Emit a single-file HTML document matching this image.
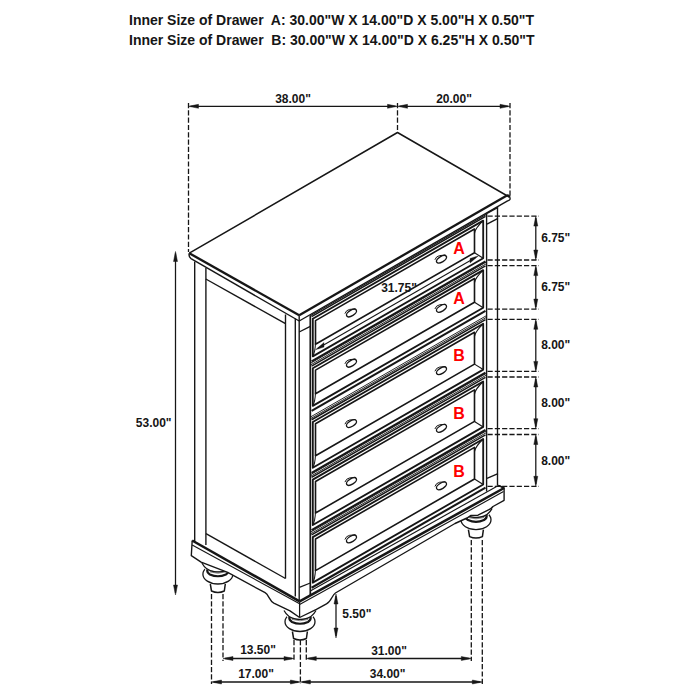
<!DOCTYPE html>
<html><head><meta charset="utf-8"><style>
html,body{margin:0;padding:0;background:#fff;}
body{width:700px;height:700px;overflow:hidden;position:relative;}
.hd{position:absolute;left:129px;font:bold 14px "Liberation Sans",sans-serif;color:#161616;white-space:pre;line-height:16px;}
svg{position:absolute;left:0;top:0;}
svg text{font-family:"Liberation Sans",sans-serif;font-weight:bold;}
</style></head><body>
<div class="hd" style="top:11.8px">Inner Size of Drawer  A: 30.00"W X 14.00"D X 5.00"H X 0.50"T</div>
<div class="hd" style="top:32px">Inner Size of Drawer  B: 30.00"W X 14.00"D X 6.25"H X 0.50"T</div>
<svg width="700" height="700" viewBox="0 0 700 700">
<line x1="188.50" y1="103.00" x2="188.50" y2="252.00" stroke="#161616" stroke-width="1.3" stroke-dasharray="5.2,2.1"/>
<line x1="397.50" y1="103.00" x2="397.50" y2="131.50" stroke="#161616" stroke-width="1.3" stroke-dasharray="5.2,2.1"/>
<line x1="510.00" y1="103.00" x2="510.00" y2="196.50" stroke="#161616" stroke-width="1.3" stroke-dasharray="5.2,2.1"/>
<line x1="190.50" y1="106.30" x2="395.50" y2="106.30" stroke="#161616" stroke-width="1.265"/>
<polygon points="188.50,106.30 198.50,104.30 198.50,108.30" fill="#161616" stroke="#161616" stroke-width="0.45999999999999996" stroke-linejoin="round"/>
<polygon points="397.50,106.30 387.50,104.30 387.50,108.30" fill="#161616" stroke="#161616" stroke-width="0.45999999999999996" stroke-linejoin="round"/>
<line x1="399.50" y1="106.30" x2="508.00" y2="106.30" stroke="#161616" stroke-width="1.265"/>
<polygon points="397.50,106.30 407.50,104.30 407.50,108.30" fill="#161616" stroke="#161616" stroke-width="0.45999999999999996" stroke-linejoin="round"/>
<polygon points="510.00,106.30 500.00,104.30 500.00,108.30" fill="#161616" stroke="#161616" stroke-width="0.45999999999999996" stroke-linejoin="round"/>
<text x="293.0" y="103.0" font-size="12" text-anchor="middle" fill="#161616">38.00"</text>
<text x="454.0" y="103.0" font-size="12" text-anchor="middle" fill="#161616">20.00"</text>
<polyline points="189.30,253.20 397.50,132.50 509.70,197.30" fill="none" stroke="#161616" stroke-width="1.4949999999999999" stroke-linejoin="round"/>
<line x1="189.30" y1="253.20" x2="299.20" y2="315.20" stroke="#161616" stroke-width="2.3"/>
<line x1="299.20" y1="315.20" x2="506.90" y2="195.40" stroke="#161616" stroke-width="2.3"/>
<path d="M506.9,195.4 Q509.2,194.6 509.7,197.3" fill="none" stroke="#161616" stroke-width="1.8399999999999999" stroke-linejoin="round"/>
<path d="M189.3,253.2 Q188.3,256.5 191,258.6" fill="none" stroke="#161616" stroke-width="1.38" stroke-linejoin="round"/>
<line x1="191.00" y1="258.60" x2="299.20" y2="321.00" stroke="#161616" stroke-width="1.38"/>
<line x1="299.20" y1="321.00" x2="508.00" y2="200.60" stroke="#161616" stroke-width="1.38"/>
<path d="M509.7,197.3 Q511,200 508,200.6" fill="none" stroke="#161616" stroke-width="1.38" stroke-linejoin="round"/>
<line x1="299.20" y1="315.20" x2="299.20" y2="321.00" stroke="#161616" stroke-width="1.38"/>
<line x1="194.70" y1="261.50" x2="194.70" y2="541.50" stroke="#161616" stroke-width="1.38"/>
<line x1="205.90" y1="268.00" x2="205.90" y2="545.00" stroke="#161616" stroke-width="1.38"/>
<line x1="205.80" y1="279.00" x2="285.50" y2="323.70" stroke="#161616" stroke-width="1.38"/>
<line x1="285.50" y1="314.50" x2="285.50" y2="578.50" stroke="#161616" stroke-width="1.38"/>
<line x1="295.30" y1="318.40" x2="295.30" y2="596.50" stroke="#161616" stroke-width="1.38"/>
<line x1="299.20" y1="321.00" x2="299.20" y2="601.40" stroke="#161616" stroke-width="1.38"/>
<line x1="206.00" y1="533.70" x2="285.50" y2="578.50" stroke="#161616" stroke-width="1.38"/>
<line x1="310.30" y1="315.60" x2="310.30" y2="595.50" stroke="#161616" stroke-width="1.7249999999999999"/>
<line x1="299.20" y1="332.00" x2="310.30" y2="326.40" stroke="#161616" stroke-width="1.38"/>
<line x1="486.60" y1="213.30" x2="486.60" y2="491.60" stroke="#161616" stroke-width="1.38"/>
<line x1="497.50" y1="207.30" x2="497.50" y2="485.40" stroke="#161616" stroke-width="1.38"/>
<line x1="487.00" y1="213.30" x2="498.00" y2="207.30" stroke="#161616" stroke-width="1.38"/>
<line x1="487.00" y1="224.10" x2="498.00" y2="218.40" stroke="#161616" stroke-width="1.38"/>
<line x1="487.00" y1="478.30" x2="498.00" y2="473.60" stroke="#161616" stroke-width="1.38"/>
<line x1="310.30" y1="315.80" x2="487.00" y2="214.02" stroke="#161616" stroke-width="1.15"/>
<line x1="311.60" y1="316.55" x2="485.50" y2="216.39" stroke="#161616" stroke-width="1.4949999999999999"/>
<line x1="311.60" y1="361.45" x2="485.50" y2="261.29" stroke="#161616" stroke-width="2.07"/>
<polygon points="312.80,318.76 483.20,220.61 483.20,258.21 312.80,356.36" fill="none" stroke="#161616" stroke-width="1.8399999999999999" stroke-linejoin="round"/>
<polygon points="315.50,320.61 474.50,229.02 474.50,252.72 315.50,344.31" fill="none" stroke="#161616" stroke-width="1.6099999999999999" stroke-linejoin="round"/>
<path d="M483.20,220.61 Q475.50,227.95 474.50,233.02" fill="none" stroke="#161616" stroke-width="1.15" stroke-linejoin="round"/>
<line x1="483.20" y1="258.21" x2="474.50" y2="252.72" stroke="#161616" stroke-width="1.15"/>
<path d="M315.50,342.81 Q315.10,352.61 312.80,356.06" fill="none" stroke="#161616" stroke-width="1.035" stroke-linejoin="round"/>
<line x1="310.20" y1="365.16" x2="487.00" y2="263.32" stroke="#161616" stroke-width="0.9199999999999999"/>
<line x1="310.20" y1="363.46" x2="487.00" y2="261.62" stroke="#161616" stroke-width="0.9199999999999999"/>
<g transform="translate(350.90,312.92)"><ellipse cx="0.6" cy="0.1" rx="5.6" ry="2.8" transform="rotate(-31 0.6 0.1)" fill="none" stroke="#161616" stroke-width="1.4"/><path d="M-6.0,0.7 Q-4.8,-2.9 -1.3,-3.5 L4.3,-4.0" fill="none" stroke="#161616" stroke-width="1.0"/></g>
<g transform="translate(440.90,259.08)"><ellipse cx="0.6" cy="0.1" rx="5.6" ry="2.8" transform="rotate(-31 0.6 0.1)" fill="none" stroke="#161616" stroke-width="1.4"/><path d="M-6.0,0.7 Q-4.8,-2.9 -1.3,-3.5 L4.3,-4.0" fill="none" stroke="#161616" stroke-width="1.0"/></g>
<text x="459.0" y="253.8" font-size="16" text-anchor="middle" fill="#ff0000">A</text>
<line x1="311.60" y1="366.05" x2="485.50" y2="265.89" stroke="#161616" stroke-width="1.4949999999999999"/>
<line x1="311.60" y1="410.95" x2="485.50" y2="310.79" stroke="#161616" stroke-width="2.07"/>
<polygon points="312.80,368.26 483.20,270.11 483.20,307.71 312.80,405.86" fill="none" stroke="#161616" stroke-width="1.8399999999999999" stroke-linejoin="round"/>
<polygon points="315.50,370.11 474.50,278.52 474.50,302.22 315.50,393.81" fill="none" stroke="#161616" stroke-width="1.6099999999999999" stroke-linejoin="round"/>
<path d="M483.20,270.11 Q475.50,277.45 474.50,282.52" fill="none" stroke="#161616" stroke-width="1.15" stroke-linejoin="round"/>
<line x1="483.20" y1="307.71" x2="474.50" y2="302.22" stroke="#161616" stroke-width="1.15"/>
<path d="M315.50,392.31 Q315.10,402.11 312.80,405.56" fill="none" stroke="#161616" stroke-width="1.035" stroke-linejoin="round"/>
<line x1="310.20" y1="418.86" x2="487.00" y2="317.02" stroke="#161616" stroke-width="0.9199999999999999"/>
<line x1="310.20" y1="417.16" x2="487.00" y2="315.32" stroke="#161616" stroke-width="0.9199999999999999"/>
<g transform="translate(350.90,363.12)"><ellipse cx="0.6" cy="0.1" rx="5.6" ry="2.8" transform="rotate(-31 0.6 0.1)" fill="none" stroke="#161616" stroke-width="1.4"/><path d="M-6.0,0.7 Q-4.8,-2.9 -1.3,-3.5 L4.3,-4.0" fill="none" stroke="#161616" stroke-width="1.0"/></g>
<g transform="translate(440.90,308.28)"><ellipse cx="0.6" cy="0.1" rx="5.6" ry="2.8" transform="rotate(-31 0.6 0.1)" fill="none" stroke="#161616" stroke-width="1.4"/><path d="M-6.0,0.7 Q-4.8,-2.9 -1.3,-3.5 L4.3,-4.0" fill="none" stroke="#161616" stroke-width="1.0"/></g>
<text x="459.0" y="303.9" font-size="16" text-anchor="middle" fill="#ff0000">A</text>
<line x1="311.60" y1="419.75" x2="485.50" y2="319.59" stroke="#161616" stroke-width="1.4949999999999999"/>
<line x1="311.60" y1="472.85" x2="485.50" y2="372.69" stroke="#161616" stroke-width="2.07"/>
<polygon points="312.80,421.96 483.20,323.81 483.20,369.61 312.80,467.76" fill="none" stroke="#161616" stroke-width="1.8399999999999999" stroke-linejoin="round"/>
<polygon points="315.50,423.81 474.50,332.22 474.50,364.12 315.50,455.71" fill="none" stroke="#161616" stroke-width="1.6099999999999999" stroke-linejoin="round"/>
<path d="M483.20,323.81 Q475.50,331.15 474.50,336.22" fill="none" stroke="#161616" stroke-width="1.15" stroke-linejoin="round"/>
<line x1="483.20" y1="369.61" x2="474.50" y2="364.12" stroke="#161616" stroke-width="1.15"/>
<path d="M315.50,454.21 Q315.10,464.01 312.80,467.46" fill="none" stroke="#161616" stroke-width="1.035" stroke-linejoin="round"/>
<line x1="310.20" y1="476.56" x2="487.00" y2="374.72" stroke="#161616" stroke-width="0.9199999999999999"/>
<line x1="310.20" y1="474.86" x2="487.00" y2="373.02" stroke="#161616" stroke-width="0.9199999999999999"/>
<g transform="translate(350.90,423.52)"><ellipse cx="0.6" cy="0.1" rx="5.6" ry="2.8" transform="rotate(-31 0.6 0.1)" fill="none" stroke="#161616" stroke-width="1.4"/><path d="M-6.0,0.7 Q-4.8,-2.9 -1.3,-3.5 L4.3,-4.0" fill="none" stroke="#161616" stroke-width="1.0"/></g>
<g transform="translate(440.90,370.58)"><ellipse cx="0.6" cy="0.1" rx="5.6" ry="2.8" transform="rotate(-31 0.6 0.1)" fill="none" stroke="#161616" stroke-width="1.4"/><path d="M-6.0,0.7 Q-4.8,-2.9 -1.3,-3.5 L4.3,-4.0" fill="none" stroke="#161616" stroke-width="1.0"/></g>
<text x="459.0" y="361.1" font-size="16" text-anchor="middle" fill="#ff0000">B</text>
<line x1="311.60" y1="477.45" x2="485.50" y2="377.29" stroke="#161616" stroke-width="1.4949999999999999"/>
<line x1="311.60" y1="530.15" x2="485.50" y2="429.99" stroke="#161616" stroke-width="2.07"/>
<polygon points="312.80,479.66 483.20,381.51 483.20,426.91 312.80,525.06" fill="none" stroke="#161616" stroke-width="1.8399999999999999" stroke-linejoin="round"/>
<polygon points="315.50,481.51 474.50,389.92 474.50,421.42 315.50,513.01" fill="none" stroke="#161616" stroke-width="1.6099999999999999" stroke-linejoin="round"/>
<path d="M483.20,381.51 Q475.50,388.85 474.50,393.92" fill="none" stroke="#161616" stroke-width="1.15" stroke-linejoin="round"/>
<line x1="483.20" y1="426.91" x2="474.50" y2="421.42" stroke="#161616" stroke-width="1.15"/>
<path d="M315.50,511.51 Q315.10,521.31 312.80,524.76" fill="none" stroke="#161616" stroke-width="1.035" stroke-linejoin="round"/>
<line x1="310.20" y1="534.06" x2="487.00" y2="432.22" stroke="#161616" stroke-width="0.9199999999999999"/>
<line x1="310.20" y1="532.36" x2="487.00" y2="430.52" stroke="#161616" stroke-width="0.9199999999999999"/>
<g transform="translate(350.90,481.42)"><ellipse cx="0.6" cy="0.1" rx="5.6" ry="2.8" transform="rotate(-31 0.6 0.1)" fill="none" stroke="#161616" stroke-width="1.4"/><path d="M-6.0,0.7 Q-4.8,-2.9 -1.3,-3.5 L4.3,-4.0" fill="none" stroke="#161616" stroke-width="1.0"/></g>
<g transform="translate(440.90,428.28)"><ellipse cx="0.6" cy="0.1" rx="5.6" ry="2.8" transform="rotate(-31 0.6 0.1)" fill="none" stroke="#161616" stroke-width="1.4"/><path d="M-6.0,0.7 Q-4.8,-2.9 -1.3,-3.5 L4.3,-4.0" fill="none" stroke="#161616" stroke-width="1.0"/></g>
<text x="459.0" y="418.9" font-size="16" text-anchor="middle" fill="#ff0000">B</text>
<line x1="311.60" y1="534.95" x2="485.50" y2="434.79" stroke="#161616" stroke-width="1.4949999999999999"/>
<line x1="311.60" y1="587.75" x2="485.50" y2="487.59" stroke="#161616" stroke-width="2.07"/>
<polygon points="312.80,537.16 483.20,439.01 483.20,484.51 312.80,582.66" fill="none" stroke="#161616" stroke-width="1.8399999999999999" stroke-linejoin="round"/>
<polygon points="315.50,539.01 474.50,447.42 474.50,479.02 315.50,570.61" fill="none" stroke="#161616" stroke-width="1.6099999999999999" stroke-linejoin="round"/>
<path d="M483.20,439.01 Q475.50,446.35 474.50,451.42" fill="none" stroke="#161616" stroke-width="1.15" stroke-linejoin="round"/>
<line x1="483.20" y1="484.51" x2="474.50" y2="479.02" stroke="#161616" stroke-width="1.15"/>
<path d="M315.50,569.11 Q315.10,578.91 312.80,582.36" fill="none" stroke="#161616" stroke-width="1.035" stroke-linejoin="round"/>
<g transform="translate(350.90,538.82)"><ellipse cx="0.6" cy="0.1" rx="5.6" ry="2.8" transform="rotate(-31 0.6 0.1)" fill="none" stroke="#161616" stroke-width="1.4"/><path d="M-6.0,0.7 Q-4.8,-2.9 -1.3,-3.5 L4.3,-4.0" fill="none" stroke="#161616" stroke-width="1.0"/></g>
<g transform="translate(440.90,485.78)"><ellipse cx="0.6" cy="0.1" rx="5.6" ry="2.8" transform="rotate(-31 0.6 0.1)" fill="none" stroke="#161616" stroke-width="1.4"/><path d="M-6.0,0.7 Q-4.8,-2.9 -1.3,-3.5 L4.3,-4.0" fill="none" stroke="#161616" stroke-width="1.0"/></g>
<text x="459.0" y="476.7" font-size="16" text-anchor="middle" fill="#ff0000">B</text>
<line x1="318.00" y1="348.27" x2="476.00" y2="257.26" stroke="#161616" stroke-width="1.035"/>
<polygon points="315.50,349.71 324.00,342.51 324.00,347.11" fill="#161616" stroke="#161616" stroke-width="0.345" stroke-linejoin="round"/>
<polygon points="478.50,255.82 470.00,258.42 470.00,263.02" fill="#161616" stroke="#161616" stroke-width="0.345" stroke-linejoin="round"/>
<text x="399.0" y="292.0" font-size="12" text-anchor="middle" fill="#161616">31.75"</text>
<ellipse cx="217.9" cy="574.20" rx="15" ry="9.8" fill="#fff" stroke="#161616" stroke-width="1.3"/>
<path d="M201.90,563.00 Q204.90,571.00 207.40,571.00 L207.40,571.50 A10.5,6 0 0 0 228.40,571.50 L228.40,571.00 Q230.90,571.00 233.90,563.00 Z" fill="#fff" stroke="none"/>
<path d="M207.30,569.50 Q206.70,572.50 209.90,574.50 Q217.90,578.00 225.90,574.50 Q229.10,572.50 228.50,569.50" fill="none" stroke="#161616" stroke-width="2.1849999999999996" stroke-linejoin="round"/>
<path d="M209.90,570.70 Q217.90,573.40 225.90,570.70" fill="none" stroke="#666" stroke-width="0.8049999999999999" stroke-linejoin="round"/>
<path d="M209.90,571.90 Q217.90,574.60 225.90,571.90" fill="none" stroke="#666" stroke-width="0.8049999999999999" stroke-linejoin="round"/>
<path d="M201.90,563.00 Q205.90,570.50 213.90,571.60 Q217.90,572.20 221.90,571.60 Q229.90,570.50 233.90,563.00" fill="none" stroke="#161616" stroke-width="1.265" stroke-linejoin="round"/>
<path d="M210.30,584.00 L211.50,591.00 Q217.90,594.00 224.30,591.00 L225.30,584.00" fill="none" stroke="#161616" stroke-width="1.4949999999999999" stroke-linejoin="round"/>
<ellipse cx="300.0" cy="621.70" rx="15" ry="9.8" fill="#fff" stroke="#161616" stroke-width="1.3"/>
<path d="M284.00,610.50 Q287.00,618.50 289.50,618.50 L289.50,619.00 A10.5,6 0 0 0 310.50,619.00 L310.50,618.50 Q313.00,618.50 316.00,610.50 Z" fill="#fff" stroke="none"/>
<path d="M289.40,617.00 Q288.80,620.00 292.00,622.00 Q300.00,625.50 308.00,622.00 Q311.20,620.00 310.60,617.00" fill="none" stroke="#161616" stroke-width="2.1849999999999996" stroke-linejoin="round"/>
<path d="M292.00,618.20 Q300.00,620.90 308.00,618.20" fill="none" stroke="#666" stroke-width="0.8049999999999999" stroke-linejoin="round"/>
<path d="M292.00,619.40 Q300.00,622.10 308.00,619.40" fill="none" stroke="#666" stroke-width="0.8049999999999999" stroke-linejoin="round"/>
<path d="M284.00,610.50 Q288.00,618.00 296.00,619.10 Q300.00,619.70 304.00,619.10 Q312.00,618.00 316.00,610.50" fill="none" stroke="#161616" stroke-width="1.265" stroke-linejoin="round"/>
<path d="M292.40,631.50 L293.60,638.50 Q300.00,641.50 306.40,638.50 L307.40,631.50" fill="none" stroke="#161616" stroke-width="1.4949999999999999" stroke-linejoin="round"/>
<ellipse cx="476.0" cy="519.80" rx="15" ry="9.8" fill="#fff" stroke="#161616" stroke-width="1.3"/>
<path d="M460.00,508.60 Q463.00,516.60 465.50,516.60 L465.50,517.10 A10.5,6 0 0 0 486.50,517.10 L486.50,516.60 Q489.00,516.60 492.00,508.60 Z" fill="#fff" stroke="none"/>
<path d="M465.40,515.10 Q464.80,518.10 468.00,520.10 Q476.00,523.60 484.00,520.10 Q487.20,518.10 486.60,515.10" fill="none" stroke="#161616" stroke-width="2.1849999999999996" stroke-linejoin="round"/>
<path d="M468.00,516.30 Q476.00,519.00 484.00,516.30" fill="none" stroke="#666" stroke-width="0.8049999999999999" stroke-linejoin="round"/>
<path d="M468.00,517.50 Q476.00,520.20 484.00,517.50" fill="none" stroke="#666" stroke-width="0.8049999999999999" stroke-linejoin="round"/>
<path d="M460.00,508.60 Q464.00,516.10 472.00,517.20 Q476.00,517.80 480.00,517.20 Q488.00,516.10 492.00,508.60" fill="none" stroke="#161616" stroke-width="1.265" stroke-linejoin="round"/>
<path d="M468.40,529.60 L469.60,536.60 Q476.00,539.60 482.40,536.60 L483.40,529.60" fill="none" stroke="#161616" stroke-width="1.4949999999999999" stroke-linejoin="round"/>
<polygon points="192.2,540.5 299.6,601.4 299.6,617.5 290,610.9 272.9,603 270.3,599.6 265.1,592.7 227.7,572.4 201.1,562.1 191.3,555.7" fill="#fff" stroke="none"/>
<polygon points="299.6,601.4 498.4,485.4 504.1,488 504.1,500.3 493,506.5 490,509.6 478,515.2 471,515.4 467,518 455,523.5 335.4,593 330,600.5 328,603 316.4,609.3 299.6,617.5" fill="#fff" stroke="none"/>
<path d="M299.6,617.5 L290,610.9 L273.8,603.2 C269.5,601 268.8,594.8 265.1,592.7 L227.7,572.4 L201.1,562.1 L191.3,555.7 L192.2,540.5" fill="none" stroke="#161616" stroke-width="1.38" stroke-linejoin="round"/>
<path d="M498.4,485.4 L504.1,488 L504.1,500.3 L493,506.5 C491.5,508.5 490.5,509.2 488,510.2 L478,515.2 L471,515.4 L467,518 L455,523.5 L335.4,593 C332,595 331.5,601.5 326.5,603.8 L316.4,609.3 L299.6,617.5" fill="none" stroke="#161616" stroke-width="1.38" stroke-linejoin="round"/>
<line x1="192.20" y1="540.50" x2="299.60" y2="601.40" stroke="#161616" stroke-width="2.53"/>
<line x1="299.60" y1="601.40" x2="504.10" y2="488.00" stroke="#161616" stroke-width="2.53"/>
<line x1="498.40" y1="485.40" x2="504.10" y2="488.00" stroke="#161616" stroke-width="1.4949999999999999"/>
<line x1="310.30" y1="591.10" x2="498.40" y2="485.40" stroke="#161616" stroke-width="1.15"/>
<line x1="192.20" y1="545.00" x2="299.60" y2="603.80" stroke="#161616" stroke-width="1.15"/>
<line x1="299.60" y1="604.60" x2="503.50" y2="491.60" stroke="#161616" stroke-width="1.15"/>
<line x1="299.60" y1="601.40" x2="299.60" y2="617.50" stroke="#161616" stroke-width="1.265"/>
<line x1="299.40" y1="587.30" x2="310.30" y2="583.00" stroke="#161616" stroke-width="1.265"/>
<line x1="487.50" y1="216.10" x2="539.00" y2="216.10" stroke="#161616" stroke-width="1.3" stroke-dasharray="5.2,2.1"/>
<line x1="487.50" y1="260.00" x2="539.00" y2="260.00" stroke="#161616" stroke-width="1.3" stroke-dasharray="5.2,2.1"/>
<line x1="487.50" y1="265.60" x2="539.00" y2="265.60" stroke="#161616" stroke-width="1.3" stroke-dasharray="5.2,2.1"/>
<line x1="487.50" y1="309.10" x2="539.00" y2="309.10" stroke="#161616" stroke-width="1.3" stroke-dasharray="5.2,2.1"/>
<line x1="487.50" y1="319.30" x2="539.00" y2="319.30" stroke="#161616" stroke-width="1.3" stroke-dasharray="5.2,2.1"/>
<line x1="487.50" y1="371.40" x2="539.00" y2="371.40" stroke="#161616" stroke-width="1.3" stroke-dasharray="5.2,2.1"/>
<line x1="487.50" y1="377.00" x2="539.00" y2="377.00" stroke="#161616" stroke-width="1.3" stroke-dasharray="5.2,2.1"/>
<line x1="487.50" y1="428.70" x2="539.00" y2="428.70" stroke="#161616" stroke-width="1.3" stroke-dasharray="5.2,2.1"/>
<line x1="487.50" y1="434.50" x2="539.00" y2="434.50" stroke="#161616" stroke-width="1.3" stroke-dasharray="5.2,2.1"/>
<line x1="487.50" y1="486.30" x2="539.00" y2="486.30" stroke="#161616" stroke-width="1.3" stroke-dasharray="5.2,2.1"/>
<line x1="535.80" y1="218.10" x2="535.80" y2="258.00" stroke="#161616" stroke-width="1.265"/>
<polygon points="535.80,216.10 533.80,226.10 537.80,226.10" fill="#161616" stroke="#161616" stroke-width="0.45999999999999996" stroke-linejoin="round"/>
<polygon points="535.80,260.00 533.80,250.00 537.80,250.00" fill="#161616" stroke="#161616" stroke-width="0.45999999999999996" stroke-linejoin="round"/>
<text x="541.2" y="242.3" font-size="12" text-anchor="start" fill="#161616">6.75"</text>
<line x1="535.80" y1="267.60" x2="535.80" y2="307.10" stroke="#161616" stroke-width="1.265"/>
<polygon points="535.80,265.60 533.80,275.60 537.80,275.60" fill="#161616" stroke="#161616" stroke-width="0.45999999999999996" stroke-linejoin="round"/>
<polygon points="535.80,309.10 533.80,299.10 537.80,299.10" fill="#161616" stroke="#161616" stroke-width="0.45999999999999996" stroke-linejoin="round"/>
<text x="541.2" y="290.6" font-size="12" text-anchor="start" fill="#161616">6.75"</text>
<line x1="535.80" y1="321.30" x2="535.80" y2="369.40" stroke="#161616" stroke-width="1.265"/>
<polygon points="535.80,319.30 533.80,329.30 537.80,329.30" fill="#161616" stroke="#161616" stroke-width="0.45999999999999996" stroke-linejoin="round"/>
<polygon points="535.80,371.40 533.80,361.40 537.80,361.40" fill="#161616" stroke="#161616" stroke-width="0.45999999999999996" stroke-linejoin="round"/>
<text x="541.2" y="349.4" font-size="12" text-anchor="start" fill="#161616">8.00"</text>
<line x1="535.80" y1="379.00" x2="535.80" y2="426.70" stroke="#161616" stroke-width="1.265"/>
<polygon points="535.80,377.00 533.80,387.00 537.80,387.00" fill="#161616" stroke="#161616" stroke-width="0.45999999999999996" stroke-linejoin="round"/>
<polygon points="535.80,428.70 533.80,418.70 537.80,418.70" fill="#161616" stroke="#161616" stroke-width="0.45999999999999996" stroke-linejoin="round"/>
<text x="541.2" y="406.5" font-size="12" text-anchor="start" fill="#161616">8.00"</text>
<line x1="535.80" y1="436.50" x2="535.80" y2="484.30" stroke="#161616" stroke-width="1.265"/>
<polygon points="535.80,434.50 533.80,444.50 537.80,444.50" fill="#161616" stroke="#161616" stroke-width="0.45999999999999996" stroke-linejoin="round"/>
<polygon points="535.80,486.30 533.80,476.30 537.80,476.30" fill="#161616" stroke="#161616" stroke-width="0.45999999999999996" stroke-linejoin="round"/>
<text x="541.2" y="465.0" font-size="12" text-anchor="start" fill="#161616">8.00"</text>
<line x1="175.50" y1="253.50" x2="175.50" y2="593.00" stroke="#161616" stroke-width="1.265"/>
<polygon points="175.50,251.50 173.50,261.50 177.50,261.50" fill="#161616" stroke="#161616" stroke-width="0.45999999999999996" stroke-linejoin="round"/>
<polygon points="175.50,595.00 173.50,585.00 177.50,585.00" fill="#161616" stroke="#161616" stroke-width="0.45999999999999996" stroke-linejoin="round"/>
<text x="153.7" y="427.0" font-size="12" text-anchor="middle" fill="#161616">53.00"</text>
<line x1="211.50" y1="594.00" x2="211.50" y2="684.00" stroke="#161616" stroke-width="1.3" stroke-dasharray="5.2,2.1"/>
<line x1="223.00" y1="594.00" x2="223.00" y2="661.00" stroke="#161616" stroke-width="1.3" stroke-dasharray="5.2,2.1"/>
<line x1="294.00" y1="640.00" x2="294.00" y2="661.00" stroke="#161616" stroke-width="1.3" stroke-dasharray="5.2,2.1"/>
<line x1="300.40" y1="640.00" x2="300.40" y2="684.00" stroke="#161616" stroke-width="1.3" stroke-dasharray="5.2,2.1"/>
<line x1="306.30" y1="640.00" x2="306.30" y2="661.00" stroke="#161616" stroke-width="1.3" stroke-dasharray="5.2,2.1"/>
<line x1="471.30" y1="540.00" x2="471.30" y2="661.00" stroke="#161616" stroke-width="1.3" stroke-dasharray="5.2,2.1"/>
<line x1="482.30" y1="540.00" x2="482.30" y2="684.00" stroke="#161616" stroke-width="1.3" stroke-dasharray="5.2,2.1"/>
<line x1="225.00" y1="658.50" x2="292.00" y2="658.50" stroke="#161616" stroke-width="1.265"/>
<polygon points="223.00,658.50 233.00,656.50 233.00,660.50" fill="#161616" stroke="#161616" stroke-width="0.45999999999999996" stroke-linejoin="round"/>
<polygon points="294.00,658.50 284.00,656.50 284.00,660.50" fill="#161616" stroke="#161616" stroke-width="0.45999999999999996" stroke-linejoin="round"/>
<line x1="213.50" y1="682.00" x2="298.40" y2="682.00" stroke="#161616" stroke-width="1.265"/>
<polygon points="211.50,682.00 221.50,680.00 221.50,684.00" fill="#161616" stroke="#161616" stroke-width="0.45999999999999996" stroke-linejoin="round"/>
<polygon points="300.40,682.00 290.40,680.00 290.40,684.00" fill="#161616" stroke="#161616" stroke-width="0.45999999999999996" stroke-linejoin="round"/>
<line x1="308.30" y1="658.50" x2="469.30" y2="658.50" stroke="#161616" stroke-width="1.265"/>
<polygon points="306.30,658.50 316.30,656.50 316.30,660.50" fill="#161616" stroke="#161616" stroke-width="0.45999999999999996" stroke-linejoin="round"/>
<polygon points="471.30,658.50 461.30,656.50 461.30,660.50" fill="#161616" stroke="#161616" stroke-width="0.45999999999999996" stroke-linejoin="round"/>
<line x1="302.40" y1="682.00" x2="480.30" y2="682.00" stroke="#161616" stroke-width="1.265"/>
<polygon points="300.40,682.00 310.40,680.00 310.40,684.00" fill="#161616" stroke="#161616" stroke-width="0.45999999999999996" stroke-linejoin="round"/>
<polygon points="482.30,682.00 472.30,680.00 472.30,684.00" fill="#161616" stroke="#161616" stroke-width="0.45999999999999996" stroke-linejoin="round"/>
<text x="258.0" y="654.0" font-size="12" text-anchor="middle" fill="#161616">13.50"</text>
<text x="256.0" y="678.0" font-size="12" text-anchor="middle" fill="#161616">17.00"</text>
<text x="389.0" y="655.0" font-size="12" text-anchor="middle" fill="#161616">31.00"</text>
<text x="387.6" y="678.0" font-size="12" text-anchor="middle" fill="#161616">34.00"</text>
<line x1="336.00" y1="596.00" x2="336.00" y2="636.00" stroke="#161616" stroke-width="1.265"/>
<polygon points="336.00,594.00 334.00,604.00 338.00,604.00" fill="#161616" stroke="#161616" stroke-width="0.45999999999999996" stroke-linejoin="round"/>
<polygon points="336.00,638.00 334.00,628.00 338.00,628.00" fill="#161616" stroke="#161616" stroke-width="0.45999999999999996" stroke-linejoin="round"/>
<text x="342.3" y="618.3" font-size="12" text-anchor="start" fill="#161616">5.50"</text>
</svg>
</body></html>
